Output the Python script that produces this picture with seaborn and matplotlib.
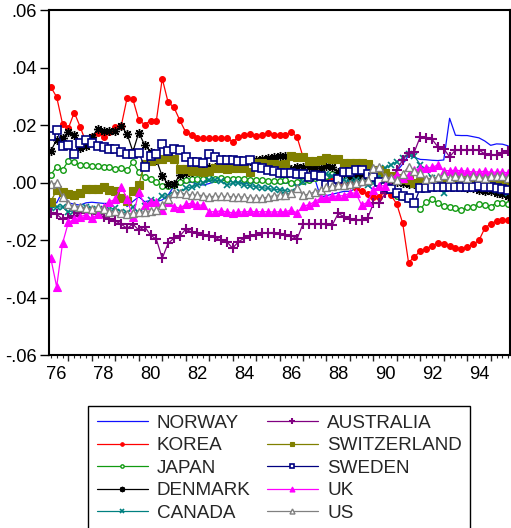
import numpy as np
import pandas as pd
import matplotlib
matplotlib.use("Agg")
import matplotlib.pyplot as plt
import seaborn as sns

# Quarterly observations, 1975Q4 - 1995Q2
quarters = pd.period_range("1975Q4", "1995Q2", freq="Q")
t = np.asarray(quarters.year + (quarters.quarter - 1) / 4.0, dtype=float)

norway = [-0.006, -0.007, -0.003, -0.007, -0.0075, -0.0078, -0.007, -0.0068, -0.007, -0.0072,
          -0.0072, -0.0072, -0.005, -0.0083, -0.0065, -0.0049, -0.0066, -0.0062, -0.0066, -0.006,
          -0.0043, -0.0012, -0.0005, 0.0, 0.0002, -0.0005, -0.0008, -0.0003, 0.0005, 0.0009,
          0.0007, 0.0005, 0.0, -0.0002, 0.0, 0.0003, 0.0003, 0.0005, 0.0, -0.0002,
          -0.0002, 0.0, -0.0012, 0.0009, 0.002, 0.0015, -0.005, -0.0045, -0.004, -0.0035,
          -0.003, -0.003, -0.002, -0.001, -0.0008, -0.0025, -0.002, 0.0005, 0.0025, 0.004,
          0.0065, 0.0095, 0.0088, 0.0081, 0.008, 0.0078, 0.0077, 0.0079, 0.0224, 0.0165,
          0.0164, 0.0164, 0.016, 0.0156, 0.0145, 0.013, 0.0135, 0.0134, 0.0128]
korea = [0.0333, 0.0298, 0.0205, 0.019, 0.0244, 0.0195, 0.014, 0.0158, 0.0174, 0.016,
         0.0177, 0.0195, 0.0197, 0.0294, 0.029, 0.0218, 0.0202, 0.0216, 0.0216, 0.0362,
         0.028, 0.0262, 0.0217, 0.0176, 0.0166, 0.0156, 0.0154, 0.0154, 0.0154, 0.0155,
         0.0155, 0.0143, 0.0158, 0.0166, 0.0169, 0.0162, 0.0166, 0.0172, 0.0167, 0.0166,
         0.0166, 0.0177, 0.0158, 0.009, 0.006, 0.004, 0.002, 0.001, 0.002, 0.0,
         -0.001, 0.0, -0.002, -0.003, -0.004, -0.005, -0.005, -0.003, -0.0043, -0.0075,
         -0.0141, -0.0278, -0.0257, -0.0239, -0.0229, -0.022, -0.0209, -0.0213, -0.022, -0.0227,
         -0.023, -0.0223, -0.0214, -0.0201, -0.0158, -0.0143, -0.0133, -0.0131, -0.0131]
japan = [0.0027, 0.0056, 0.0044, 0.0076, 0.0071, 0.0063, 0.0063, 0.0059, 0.0058, 0.0056,
         0.0056, 0.0047, 0.005, 0.0043, 0.0071, 0.0038, 0.0021, 0.0013, 0.0002, -0.001,
         -0.0012, -0.0008, 0.0003, 0.0009, 0.0012, 0.0012, 0.0013, 0.0015, 0.0014, 0.0015,
         0.0013, 0.0012, 0.0012, 0.0012, 0.001, 0.0009, 0.0008, 0.0005, 0.0006, 0.0006,
         0.0009, 0.0, 0.0003, 0.0005, 0.001, 0.0015, 0.002, 0.0025, 0.003, 0.0035,
         0.0045, 0.0045, 0.004, 0.004, 0.0038, 0.0035, 0.002, 0.0, -0.002, -0.0045,
         -0.005, -0.0055, -0.007, -0.0093, -0.0066, -0.0056, -0.0072, -0.0081, -0.0086, -0.0089,
         -0.0096, -0.0086, -0.0083, -0.0073, -0.0078, -0.0083, -0.007, -0.0072, -0.0075]
denmark = [0.011, 0.015, 0.0155, 0.0177, 0.0166, 0.0122, 0.0127, 0.016, 0.0186, 0.018,
           0.018, 0.018, 0.0197, 0.017, 0.0108, 0.0174, 0.0131, 0.0108, 0.008, 0.0022,
           -0.0005, -0.0005, 0.0027, 0.0033, 0.0038, 0.0045, 0.005, 0.0053, 0.0056, 0.0062,
           0.0068, 0.007, 0.0072, 0.0074, 0.0076, 0.008, 0.0084, 0.0087, 0.009, 0.0093,
           0.0093, 0.0048, 0.0055, 0.0056, 0.0055, 0.005, 0.0052, 0.0058, 0.0055, 0.0038,
           0.003, 0.002, 0.0022, 0.002, 0.0015, 0.0012, 0.001, 0.0008, 0.0005, 0.0003,
           0.0, -0.0005, -0.0006, 0.0, -0.0002, 0.0, -0.0005, -0.0008, -0.001, -0.0012,
           -0.0015, -0.0018, -0.002, -0.0024, -0.0028, -0.003, -0.0035, -0.004, -0.0045]
canada = [-0.0089, -0.0083, -0.0085, -0.0101, -0.0098, -0.0093, -0.0083, -0.009, -0.0095, -0.0093,
          -0.0092, -0.0089, -0.0101, -0.0107, -0.0083, -0.0107, -0.008, -0.006, -0.0066, -0.0045,
          -0.0048, -0.0043, -0.0031, -0.002, -0.0014, -0.0008, -0.0002, 0.0009, 0.0009, 0.0005,
          -0.0008, -0.0002, 0.0, -0.0008, -0.001, -0.0014, -0.0017, -0.002, -0.0023, -0.0025,
          -0.0028, -0.0033, -0.0015, 0.0003, 0.0027, 0.0015, 0.002, 0.0029, 0.0022, 0.0015,
          0.0008, 0.0003, 0.0009, 0.0002, -0.0008, 0.0, 0.002, 0.005, 0.0062, 0.0073,
          0.0085, 0.01, 0.0093, 0.0062, 0.0044, 0.0015, 0.0005, -0.0035, -0.0008, -0.001,
          -0.0008, -0.0012, -0.0015, -0.0015, -0.0018, -0.002, -0.0025, -0.003, -0.0037]
australia = [-0.0107, -0.011, -0.0127, -0.0124, -0.0115, -0.0107, -0.0104, -0.0101, -0.011, -0.0118,
             -0.0127, -0.0133, -0.0144, -0.0159, -0.0144, -0.0165, -0.0153, -0.0182, -0.0197, -0.0263,
             -0.0211, -0.0193, -0.0185, -0.0162, -0.0171, -0.0176, -0.0182, -0.0185, -0.019, -0.02,
             -0.0205, -0.0228, -0.0205, -0.0193, -0.0186, -0.0182, -0.0176, -0.0176, -0.0176, -0.0178,
             -0.0182, -0.0185, -0.0195, -0.0143, -0.0144, -0.0144, -0.0144, -0.0145, -0.0147, -0.0107,
             -0.0118, -0.0127, -0.013, -0.013, -0.0124, -0.0072, -0.0072, -0.0037, 0.0003, 0.0044,
             0.0079, 0.0104, 0.0108, 0.016, 0.0156, 0.0151, 0.0125, 0.0118, 0.009, 0.0114,
             0.0114, 0.0114, 0.0114, 0.0114, 0.01, 0.0098, 0.0096, 0.0102, 0.0111]
switzerland = [-0.0066, -0.0025, -0.0033, -0.004, -0.0044, -0.0037, -0.0022, -0.0022, -0.0022, -0.0016,
               -0.0024, -0.003, -0.0052, -0.0065, -0.0029, -0.0008, 0.0065, 0.0077, 0.0081, 0.0081,
               0.009, 0.0084, 0.0049, 0.0047, 0.0042, 0.0041, 0.0038, 0.0041, 0.005, 0.005,
               0.0048, 0.005, 0.0052, 0.005, 0.0038, 0.0068, 0.0068, 0.0065, 0.0064, 0.0061,
               0.0064, 0.0093, 0.009, 0.0088, 0.0075, 0.0077, 0.008, 0.0085, 0.0083, 0.0081,
               0.007, 0.0068, 0.0067, 0.0068, 0.0066, 0.0045, 0.0044, 0.0035, 0.0022, 0.0018,
               0.0012, 0.0008, 0.0, 0.0003, 0.0002, 0.0003, 0.0005, 0.0004, 0.0004, 0.0008,
               0.0009, 0.0008, 0.0006, 0.0005, 0.0006, 0.0004, 0.0003, 0.0003, 0.0003]
sweden = [0.0162, 0.0183, 0.0129, 0.0131, 0.0099, 0.0137, 0.0149, 0.0137, 0.0129, 0.0125,
          0.0116, 0.0116, 0.0107, 0.01, 0.01, 0.0104, 0.0056, 0.0093, 0.0099, 0.0134,
          0.0111, 0.0117, 0.0114, 0.009, 0.0071, 0.0071, 0.007, 0.0099, 0.0088, 0.0079,
          0.0079, 0.0079, 0.0077, 0.0077, 0.0079, 0.0056, 0.005, 0.0045, 0.0042, 0.0035,
          0.0035, 0.0033, 0.003, 0.003, 0.002, 0.0027, 0.0025, -0.0008, -0.0008, 0.0012,
          0.0036, 0.0038, 0.0043, 0.0043, 0.003, 0.0021, 0.0004, -0.0014, -0.0023, -0.0035,
          -0.0046, -0.0054, -0.0072, -0.0017, -0.0017, -0.0016, -0.0014, -0.0016, -0.0016, -0.0016,
          -0.0016, -0.0015, -0.0016, -0.0012, -0.0015, -0.0016, -0.002, -0.0022, -0.0024]
uk = [-0.0263, -0.0362, -0.0211, -0.0138, -0.0127, -0.0118, -0.0112, -0.0124, -0.011, -0.0083,
      -0.0066, -0.0058, -0.0014, -0.0055, -0.0121, -0.0031, -0.0078, -0.0066, -0.0066, -0.0095,
      -0.0066, -0.0083, -0.0089, -0.0075, -0.0072, -0.0078, -0.0078, -0.0101, -0.0101, -0.0098,
      -0.0101, -0.0105, -0.0102, -0.0101, -0.01, -0.0101, -0.0101, -0.0101, -0.0102, -0.0101,
      -0.0101, -0.0095, -0.0105, -0.0081, -0.0077, -0.0066, -0.0054, -0.0052, -0.0048, -0.0046,
      -0.0045, -0.0036, -0.0036, -0.0078, -0.0068, -0.0027, -0.0012, -0.001, 0.0015, 0.0028,
      0.0015, 0.0028, 0.0044, 0.005, 0.005, 0.0053, 0.0062, 0.0042, 0.0042, 0.0043,
      0.0042, 0.004, 0.0037, 0.0038, 0.004, 0.0036, 0.0037, 0.0036, 0.0035]
us = [-0.0005, -0.0001, -0.005, -0.0075, -0.0082, -0.0085, -0.0089, -0.009, -0.0085, -0.009,
      -0.0101, -0.0098, -0.0107, -0.011, -0.0107, -0.0103, -0.0101, -0.0098, -0.0095, -0.0078,
      -0.0058, -0.0037, -0.0035, -0.004, -0.0043, -0.0043, -0.0045, -0.0049, -0.0047, -0.0048,
      -0.0048, -0.0049, -0.0049, -0.005, -0.0054, -0.0053, -0.0054, -0.005, -0.0045, -0.0043,
      -0.0043, -0.0037, -0.002, -0.0043, -0.004, -0.0031, -0.0025, -0.0016, -0.0012, -0.0008,
      -0.0008, -0.0005, 0.0, 0.0005, 0.0009, 0.005, 0.0056, 0.0021, 0.0015, 0.0009,
      0.003, 0.0056, 0.004, 0.0033, 0.0012, 0.0015, 0.002, 0.0027, 0.0015, 0.0025,
      0.002, 0.0018, 0.0022, 0.002, 0.0018, 0.0023, 0.0025, 0.0024, 0.0016]

names = ["NORWAY", "KOREA", "JAPAN", "DENMARK", "CANADA",
         "AUSTRALIA", "SWITZERLAND", "SWEDEN", "UK", "US"]
values = [norway, korea, japan, denmark, canada,
          australia, switzerland, sweden, uk, us]

year_labels = ["76", "78", "80", "82", "84", "86", "88", "90", "92", "94"]
y_ticks = [0.06, 0.04, 0.02, 0.0, -0.02, -0.04, -0.06]
y_labels = [".06", ".04", ".02", ".00", "-.02", "-.04", "-.06"]

# line colour, marker, marker size, filled?, marker edge width
styles = {
    "NORWAY":      ("#1010ff", "None", 0, True, 1.0),
    "KOREA":       ("#ff0000", "o", 4.2, True, 0.8),
    "JAPAN":       ("#119a11", "o", 4.0, False, 1.0),
    "DENMARK":     ("#000000", (8, 2, 0), 6.5, True, 1.0),
    "CANADA":      ("#008080", "x", 5.0, True, 1.2),
    "AUSTRALIA":   ("#800080", "+", 7.5, True, 1.5),
    "SWITZERLAND": ("#808000", "s", 5.5, True, 0.8),
    "SWEDEN":      ("#000080", "s", 5.3, False, 1.2),
    "UK":          ("#ff00ff", "^", 6.0, True, 0.8),
    "US":          ("#808080", "^", 6.0, False, 1.0),
}

sns.set_style("ticks")
plt.rcParams["font.family"] = ["Liberation Sans", "DejaVu Sans"]

W, H = 511, 528
fig = plt.figure(figsize=(W / 100, H / 100), dpi=100)
ax = fig.add_axes([49.3 / W, 1 - 355.2 / H, (510 - 49.3) / W, (355.2 - 10.2) / H])

for name, vals in zip(names, values):
    color, marker, ms, filled, mew = styles[name]
    df = pd.DataFrame({"t": t, "v": vals})
    sns.lineplot(data=df, x="t", y="v", ax=ax, estimator=None, sort=False,
                 color=color, linewidth=0.9, marker=marker, markersize=ms,
                 markerfacecolor=color if filled else "white",
                 markeredgecolor=color, markeredgewidth=mew, label=name)

ax.set_xlim(1975.686, 1995.324)
ax.set_ylim(-0.06, 0.06)
ax.set_xlabel("")
ax.set_ylabel("")

# y axis
ax.set_yticks(y_ticks)
ax.set_yticklabels(y_labels)
ax.tick_params(axis="y", direction="out", length=6.5, width=1.0, pad=2.6,
               labelsize=13.2, colors="black")

# x axis: long ticks mid-year, short ticks each quarter, year labels on their own axis
mid_year = [y + 0.5 for y in range(1976, 1995)]
quarter_ticks = [v for v in t if not np.isclose((v % 1), 0.5)]
ax.set_xticks(mid_year)
ax.set_xticklabels([])
ax.set_xticks(quarter_ticks, minor=True)
ax.tick_params(axis="x", which="major", direction="out", length=4.5, width=1.0)
ax.tick_params(axis="x", which="minor", direction="out", length=2.3, width=0.8)

lab_axis = ax.secondary_xaxis("bottom")
lab_axis.set_xticks([1976 + 2 * k for k in range(len(year_labels))])
lab_axis.set_xticklabels(year_labels)
lab_axis.tick_params(axis="x", length=0, pad=7.5, labelsize=13.2, colors="black")
lab_axis.spines["bottom"].set_visible(False)

for sp in ax.spines.values():
    sp.set_visible(True)
    sp.set_linewidth(1.5)
    sp.set_color("black")

handles, labels = ax.get_legend_handles_labels()
ax.get_legend().remove()
leg = fig.legend(handles, labels, ncol=2, loc="upper left",
                 bbox_to_anchor=(88 / W, 1 - 406 / H), bbox_transform=fig.transFigure,
                 frameon=True, fancybox=False, edgecolor="black", framealpha=1,
                 fontsize=13.6, handlelength=2.7, handletextpad=0.48,
                 columnspacing=0.88, labelspacing=0.28, borderpad=0.45,
                 markerscale=0.6, borderaxespad=0)
leg.get_frame().set_linewidth(1.0)

fig.savefig("out.png", dpi=100)
